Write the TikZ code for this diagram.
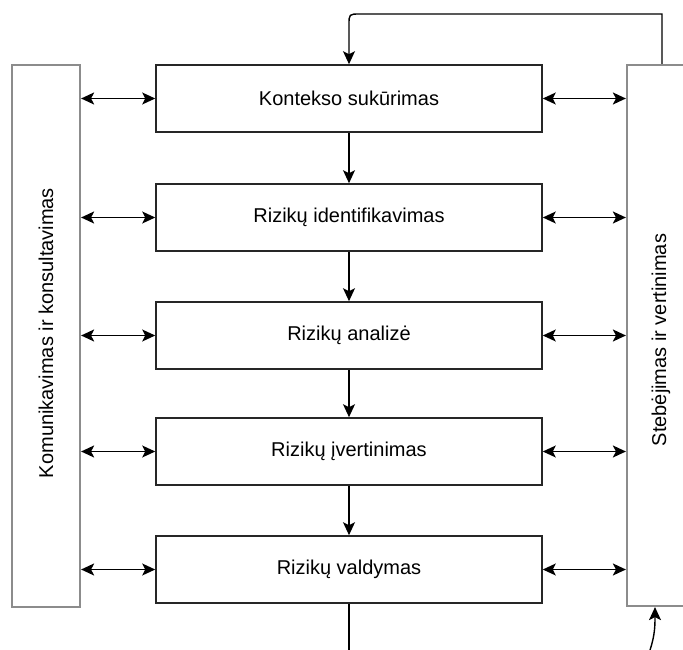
\documentclass[tikz,border=0pt]{standalone}
\usepackage{fontspec}
\setmainfont{Liberation Sans}
\usetikzlibrary{arrows.meta}
\begin{document}
\begin{tikzpicture}[x=1pt,y=-1pt,
  tip/.tip={Stealth[length=13pt,width=12pt,inset=3pt]},
  proc/.style={draw=black!85, line width=1.6pt, minimum width=386pt,
    minimum height=67pt, inner sep=0pt, font=\fontsize{20}{24}\selectfont},
  side/.style={draw=black!45, line width=2.2pt, inner sep=0pt},
  sidetext/.style={rotate=90, font=\fontsize{20}{24}\selectfont},
  link/.style={line width=1.4pt, {tip}-{tip}},
  flow/.style={line width=1.4pt, -{tip}}]
  \useasboundingbox (0,0) rectangle (683,650);
  \clip (0,0) rectangle (683,650);

  % side bars
  \node[side, minimum width=68pt, minimum height=542pt] (L) at (46,336) {};
  \node[sidetext] (Ltxt) at (46,333) {Komunikavimas ir konsultavimas};
  \node[side, minimum width=80pt, minimum height=541pt] (R) at (667,335.5) {};
  \node[sidetext] (Rtxt) at (661,340) {Stebėjimas ir vertinimas};

  % process steps
  \node[proc] (b1) at (349,98.5) {Kontekso sukūrimas};
  \node[proc] (b2) at (349,217.5) {Rizikų identifikavimas};
  \node[proc] (b3) at (349,335.5) {Rizikų analizė};
  \node[proc] (b4) at (349,451.5) {Rizikų įvertinimas};
  \node[proc] (b5) at (349,569.5) {Rizikų valdymas};

  % flow between steps
  \draw[flow] (b1) -- (b2);
  \draw[flow] (b2) -- (b3);
  \draw[flow] (b3) -- (b4);
  \draw[flow] (b4) -- (b5);
  \coordinate (out) at (349,650);
  \draw[line width=1.4pt] (b5) -- (out);

  % links to the side bars
  \foreach \b in {b1,b2,b3,b4,b5}{
    \draw[link] (L.east |- \b.west) -- (\b.west);
    \draw[link] (\b.east) -- (R.west |- \b.east);
  }

  % feedback from monitoring to context: sharp turn on the right, rounded on the left
  \coordinate (fbR) at (662,14);
  \coordinate (fbC) at (b1.north |- fbR);
  \coordinate (fbA) at (360,14);
  \coordinate (fbB) at (349,25);
  \draw[flow] (R.north -| fbR) -- (fbR) -- (fbA) .. controls (fbC) .. (fbB) -- (b1.north);

  % incoming arrow at the bottom of the monitoring bar
  \coordinate (inB) at (650,650);
  \draw[flow] (inB) .. controls (655,635) and (655,625) .. (R.south -| 655,0);
\end{tikzpicture}
\end{document}
